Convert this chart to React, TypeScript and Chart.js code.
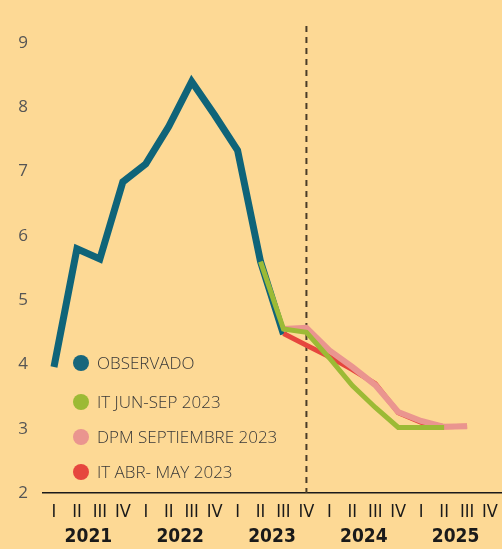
import React, { useEffect, useRef } from "react";
import { Chart, registerables } from "chart.js";

Chart.register(...registerables);

const quarters = ["I","II","III","IV","I","II","III","IV","I","II","III","IV","I","II","III","IV","I","II","III","IV"];
const years = ["2021", "2022", "2023", "2024", "2025"];
const yTicks = [2, 3, 4, 5, 6, 7, 8, 9];

const observado = [3.96, 5.8, 5.64, 6.84, 7.12, 7.7, 8.4, 7.88, 7.33, 5.6, 4.47, null, null, null, null, null, null, null, null, null];
const itJunSep = [null, null, null, null, null, null, null, null, null, 5.6, 4.55, 4.5, 4.1, 3.67, 3.33, 3.02, 3.02, 3.02, null, null];
const dpmSep = [null, null, null, null, null, null, null, null, null, null, 4.55, 4.57, 4.22, 3.96, 3.68, 3.26, 3.12, 3.03, 3.04, null];
const itAbrMay = [null, null, null, null, null, null, null, null, null, null, 4.48, 4.3, 4.12, 3.92, 3.7, 3.25, 3.1, 3.03, 3.04, null];

const legendItems = [
  { label: "OBSERVADO", color: "#17667c" },
  { label: "IT JUN-SEP 2023", color: "#9cba35" },
  { label: "DPM SEPTIEMBRE 2023", color: "#ea958f" },
  { label: "IT ABR- MAY 2023", color: "#e6463e" },
];

const BG = "#fdd995";
const NARROW = "'Liberation Sans Narrow', 'DejaVu Sans Condensed', sans-serif";

const decorPlugin = {
  id: "decor",
  beforeDraw(chart: any) {
    const ctx = chart.ctx;
    ctx.save();
    ctx.fillStyle = BG;
    ctx.fillRect(0, 0, chart.width, chart.height);
    ctx.restore();
  },
  beforeDatasetsDraw(chart: any) {
    const ctx = chart.ctx;
    const x = chart.scales.x.getPixelForValue(11);
    const { bottom } = chart.chartArea;
    ctx.save();
    ctx.strokeStyle = "#4a3d28";
    ctx.lineWidth = 2;
    ctx.setLineDash([6, 5]);
    ctx.beginPath();
    ctx.moveTo(x, 26);
    ctx.lineTo(x, bottom);
    ctx.stroke();
    ctx.restore();
  },
  afterDraw(chart: any) {
    const ctx = chart.ctx;
    const xs = chart.scales.x;
    const ysc = chart.scales.y;
    ctx.save();
    // y tick labels
    ctx.fillStyle = "#555";
    ctx.font = "17px 'Open Sans', sans-serif";
    ctx.textAlign = "right";
    ctx.textBaseline = "middle";
    yTicks.forEach((v) => ctx.fillText(String(v), 28, ysc.getPixelForValue(v)));
    // quarter labels
    ctx.fillStyle = "#1a1a1a";
    ctx.font = "18px " + NARROW;
    ctx.textAlign = "center";
    quarters.forEach((q, i) => ctx.fillText(q, xs.getPixelForValue(i), 512));
    // year labels
    ctx.font = "bold 19px " + NARROW;
    years.forEach((y, i) => {
      const x = (xs.getPixelForValue(i * 4 + 1) + xs.getPixelForValue(i * 4 + 2)) / 2;
      ctx.fillText(y, x, 537);
    });
    // legend
    ctx.font = "300 17px 'Open Sans', sans-serif";
    ctx.textAlign = "left";
    const ys = [363, 402, 437, 472];
    legendItems.forEach((it, i) => {
      ctx.fillStyle = it.color;
      ctx.beginPath();
      ctx.arc(81, ys[i], 8, 0, Math.PI * 2);
      ctx.fill();
      ctx.fillStyle = "#383838";
      ctx.fillText(it.label, 97, ys[i] + 1);
    });
    ctx.restore();
  },
};

export default function App() {
  const ref = useRef<HTMLCanvasElement>(null);
  useEffect(() => {
    if (!ref.current) return;
    const chart = new Chart(ref.current, {
      type: "line",
      data: {
        labels: quarters,
        datasets: [
          { label: "IT JUN-SEP 2023", data: itJunSep, borderColor: "#9cba35", borderWidth: 5, pointRadius: 0, order: 0 },
          { label: "DPM SEPTIEMBRE 2023", data: dpmSep, borderColor: "#ea958f", borderWidth: 6, pointRadius: 0, order: 1 },
          { label: "IT ABR- MAY 2023", data: itAbrMay, borderColor: "#e6463e", borderWidth: 5, pointRadius: 0, order: 2 },
          { label: "OBSERVADO", data: observado, borderColor: "#0f6479", borderWidth: 7, pointRadius: 0, order: 3 },
        ],
      },
      options: {
        animation: false,
        responsive: false,
        maintainAspectRatio: false,
        layout: { padding: { left: 0, right: 0.5, top: 0, bottom: 0 } },
        plugins: { legend: { display: false }, tooltip: { enabled: false }, title: { display: false } },
        scales: {
          x: {
            type: "category",
            offset: true,
            grid: { display: false, drawTicks: false },
            border: { display: true, color: "#1a1a1a", width: 1.5 },
            ticks: { display: false },
            afterFit(scale: any) { scale.height = 56; },
          },
          y: {
            min: 2,
            max: 9.67,
            grid: { display: false, drawTicks: false },
            border: { display: false },
            ticks: { display: false },
            afterBuildTicks(scale: any) { scale.ticks = yTicks.map((v) => ({ value: v })); },
            afterFit(scale: any) { scale.width = 42.5; },
          },
        },
      },
      plugins: [decorPlugin],
    } as any);
    return () => chart.destroy();
  }, []);
  return (
    <div style={{ position: "fixed", left: 0, top: 0, width: 502, height: 549, background: BG }}>
      <canvas ref={ref} width={502} height={549} style={{ width: 502, height: 549, display: "block" }} />
    </div>
  );
}
